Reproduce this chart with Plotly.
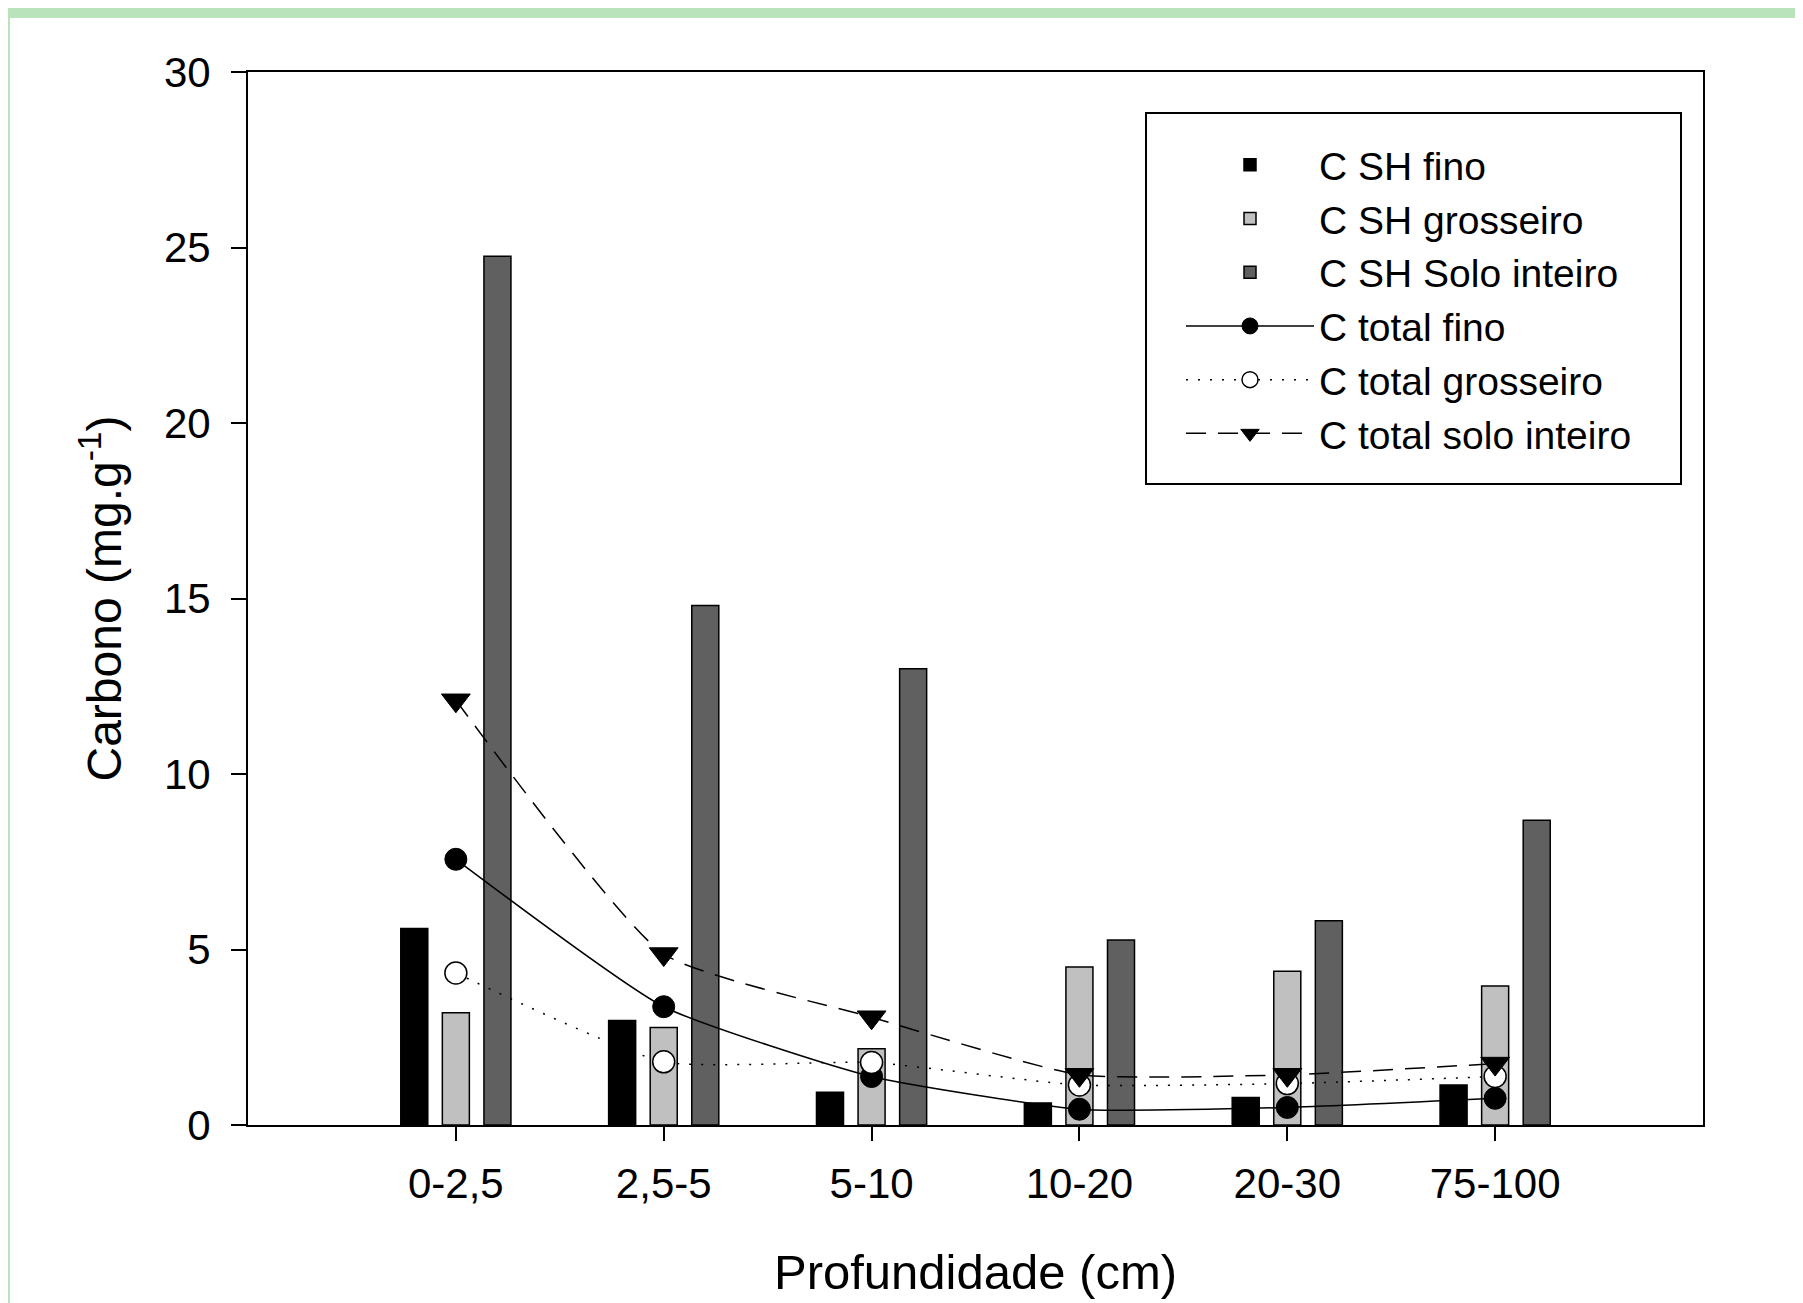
import plotly.graph_objects as go

categories = ["0-2,5", "2,5-5", "5-10", "10-20", "20-30", "75-100"]

sh_fino = [5.6, 2.98, 0.93, 0.63, 0.78, 1.14]
sh_grosseiro = [3.2, 2.78, 2.17, 4.5, 4.38, 3.96]
sh_solo_inteiro = [24.75, 14.8, 13.0, 5.27, 5.82, 8.68]

total_fino = [7.57, 3.37, 1.38, 0.45, 0.5, 0.76]
total_grosseiro = [4.33, 1.8, 1.78, 1.14, 1.18, 1.38]
total_solo_inteiro = [12.1, 4.87, 3.07, 1.43, 1.43, 1.75]

y_ticks = [0, 5, 10, 15, 20, 25, 30]

FONT = "Liberation Sans, Arial, sans-serif"
BAR_W = 0.13
SMOOTH = 0.5

fig = go.Figure()

bar_specs = [
    ("C SH fino", sh_fino, "#000000", -0.2),
    ("C SH grosseiro", sh_grosseiro, "#c0c0c0", 0.0),
    ("C SH Solo inteiro", sh_solo_inteiro, "#606060", 0.2),
]
for name, vals, col, off in bar_specs:
    fig.add_trace(go.Bar(
        x=categories, y=vals, name=name,
        width=BAR_W, offset=off - BAR_W / 2,
        marker=dict(color=col, line=dict(color="black", width=1.5)),
    ))

fig.add_trace(go.Scatter(
    x=categories, y=total_fino, name="C total fino", mode="lines+markers",
    line=dict(color="black", width=1.5, shape="spline", smoothing=SMOOTH),
    marker=dict(symbol="circle", size=22, color="black", line=dict(color="black", width=1)),
))
fig.add_trace(go.Scatter(
    x=categories, y=total_grosseiro, name="C total grosseiro", mode="lines+markers",
    line=dict(color="black", width=1.5, dash="2px,10px", shape="spline", smoothing=SMOOTH),
    marker=dict(symbol="circle", size=22, color="white", line=dict(color="black", width=1.5)),
))
fig.add_trace(go.Scatter(
    x=categories, y=total_solo_inteiro, name="C total solo inteiro", mode="lines+markers",
    line=dict(color="black", width=1.5, dash="20px,12px", shape="spline", smoothing=SMOOTH),
    marker=dict(symbol="triangle-down", size=25, color="black", line=dict(color="black", width=1)),
))

# The page adds an 8px body margin, so reference pixel positions are shifted by -8.
W, H = 1803, 1303
OFF = 8
L = 248 - OFF
T = 72 - OFF
PR = 1703 - OFF
PB = 1125 - OFF
R = W - PR
B = H - PB
pw, ph = PR - L, PB - T


def px2paper_x(px):
    return (px - OFF - L) / pw


def px2paper_y(py):
    return (PB - (py - OFF)) / ph


green = "#b9e3bb"
shapes = [
    dict(type="rect", xref="paper", yref="paper", layer="below",
         x0=px2paper_x(0), x1=px2paper_x(W + OFF), y0=px2paper_y(18), y1=px2paper_y(OFF),
         fillcolor=green, line=dict(width=0)),
    dict(type="rect", xref="paper", yref="paper", layer="below",
         x0=px2paper_x(OFF), x1=px2paper_x(10), y0=px2paper_y(H + OFF), y1=px2paper_y(OFF),
         fillcolor=green, line=dict(width=0)),
    # legend frame
    dict(type="rect", xref="paper", yref="paper", layer="above",
         x0=px2paper_x(1146), x1=px2paper_x(1681), y0=px2paper_y(484), y1=px2paper_y(113),
         fillcolor="rgba(0,0,0,0)", line=dict(color="black", width=2)),
]

ITEMW = 128
fig.update_layout(
    width=W, height=H,
    margin=dict(l=L, r=R, t=T, b=B, autoexpand=False),
    paper_bgcolor="white", plot_bgcolor="white",
    font=dict(family=FONT, size=40, color="black"),
    barmode="overlay",
    shapes=shapes,
    legend=dict(
        x=px2paper_x(1323 - ITEMW - 14), y=px2paper_y(133),
        xanchor="left", yanchor="top",
        bgcolor="white", borderwidth=0,
        font=dict(family=FONT, size=39, color="black"),
        itemwidth=ITEMW, tracegroupgap=0,
    ),
    showlegend=True,
)

fig.update_xaxes(
    type="category", categoryorder="array", categoryarray=categories,
    range=[-1, 6], showgrid=False, zeroline=False,
    showline=True, linecolor="black", linewidth=2, mirror=True,
    ticks="outside", ticklen=14, tickwidth=1.5, tickcolor="black",
    ticklabelstandoff=7, automargin=False,
    tickfont=dict(family=FONT, size=42),
    title=dict(text="Profundidade (cm)", font=dict(family=FONT, size=49), standoff=48),
)
fig.update_yaxes(
    range=[0, 30], tickvals=y_ticks, showgrid=False, zeroline=False,
    showline=True, linecolor="black", linewidth=2, mirror=True,
    ticks="outside", ticklen=15, tickwidth=1.5, tickcolor="black",
    ticklabelstandoff=12, automargin=False,
    tickfont=dict(family=FONT, size=42),
    title=dict(text="Carbono (mg.g<sup>-1</sup>)", font=dict(family=FONT, size=48), standoff=27),
)

fig.write_html("out.html")
